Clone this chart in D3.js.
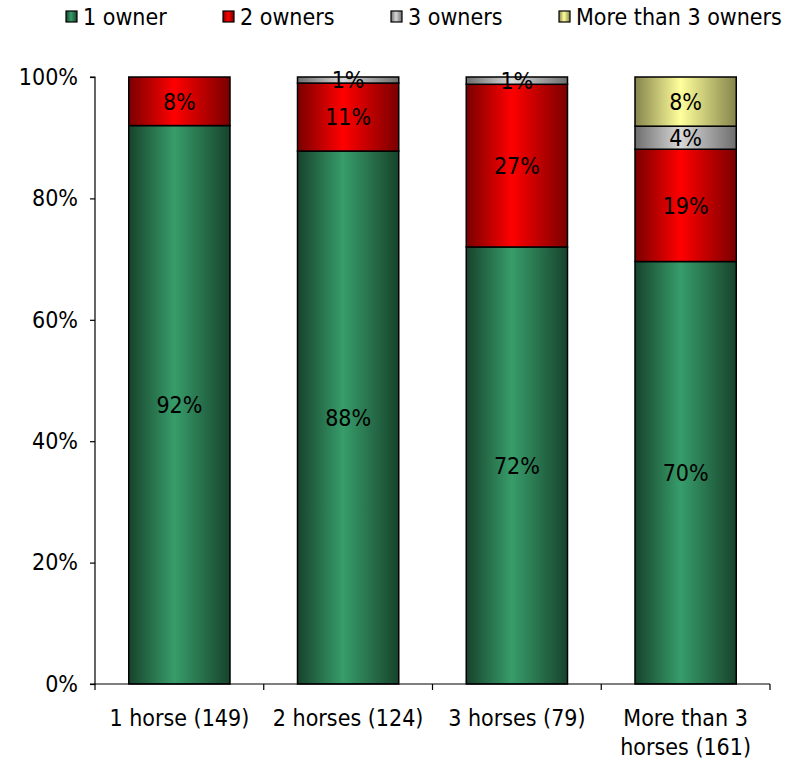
<!DOCTYPE html>
<html><head><meta charset="utf-8">
<script src="https://cdn.jsdelivr.net/npm/d3@7"></script>
<style>body{margin:0;background:#fff}svg{display:block}text{font-family:"DejaVu Sans Condensed","DejaVu Sans",sans-serif}</style>
</head><body><svg id="c" width="804" height="761"></svg>
<script>
const categories = ["1 horse (149)", "2 horses (124)", "3 horses (79)", "More than 3 horses (161)"];
const categoryLines = [["1 horse (149)"], ["2 horses (124)"], ["3 horses (79)"], ["More than 3", "horses (161)"]];
const seriesNames = ["1 owner", "2 owners", "3 owners", "More than 3 owners"];
const oneOwner = [92, 87.8, 72.0, 69.6];
const twoOwners = [8, 11.2, 26.8, 18.5];
const threeOwners = [0, 1.0, 1.2, 3.8];
const moreOwners = [0, 0, 0, 8.1];
const yTicks = [0, 20, 40, 60, 80, 100];
const colors = [
  {edge:"#17432c", mid:"#379d6a"},
  {edge:"#7a0000", mid:"#ff0000"},
  {edge:"#6e6e6e", mid:"#d8d8d8"},
  {edge:"#85854c", mid:"#ffff9c"}
];

(function(){
const FS = 23;
const series = [oneOwner, twoOwners, threeOwners, moreOwners];
const svg = d3.select("#c");
const defs = svg.append("defs");
colors.forEach((c,i)=>{
  const g = defs.append("linearGradient").attr("id","g"+i).attr("x1","0").attr("x2","1").attr("y1","0").attr("y2","0");
  g.append("stop").attr("offset","0%").attr("stop-color",c.edge);
  g.append("stop").attr("offset","45%").attr("stop-color",c.mid);
  g.append("stop").attr("offset","100%").attr("stop-color",c.edge);
});

const mLeft = 95, mRight = 770, mTop = 77, mBottom = 684;
const x = d3.scaleBand().domain(categories).range([mLeft, mRight]).paddingInner(0.4).paddingOuter(0.2);
const y = d3.scaleLinear().domain([0, 100]).range([mBottom, mTop]);

const rows = categories.map((c,i)=>{ const o={cat:c}; seriesNames.forEach((s,j)=>o[s]=series[j][i]); return o; });
const stacked = d3.stack().keys(seriesNames)(rows);

stacked.forEach((layer, j)=>{
  const g = svg.append("g");
  layer.forEach((d,i)=>{
    const v = d[1]-d[0];
    if (v <= 0) return;
    g.append("rect").attr("x", x(categories[i])).attr("width", x.bandwidth())
      .attr("y", y(d[1])).attr("height", y(d[0]) - y(d[1]))
      .attr("fill", "url(#g"+j+")").attr("stroke","#000").attr("stroke-width",1.5);
  });
});
stacked.forEach((layer, j)=>{
  layer.forEach((d,i)=>{
    const v = d[1]-d[0];
    if (v <= 0) return;
    svg.append("text").attr("x", x(categories[i]) + x.bandwidth()/2)
      .attr("y", (y(d[0])+y(d[1]))/2).attr("dy","0.36em")
      .attr("text-anchor","middle").attr("font-size",FS).attr("fill","#000")
      .text(Math.round(v) + "%");
  });
});

// y axis
const ya = svg.append("g").attr("transform",`translate(${mLeft},0)`)
  .call(d3.axisLeft(y).tickValues(yTicks).tickFormat(d=>d+"%").tickSize(5).tickPadding(12));
ya.select(".domain").attr("stroke","#000").attr("stroke-width",1.2).attr("d",`M-5,${mTop}H0V${mBottom}H-5`);
ya.selectAll("line").attr("stroke","#000").attr("stroke-width",1.2);
ya.selectAll("text").attr("font-size",FS).attr("fill","#000").attr("font-family",'"DejaVu Sans Condensed","DejaVu Sans",sans-serif');

// x axis
const xg = svg.append("g");
xg.append("line").attr("x1",mLeft).attr("x2",mRight).attr("y1",mBottom).attr("y2",mBottom).attr("stroke","#000").attr("stroke-width",1.2);
const step = x.step();
const bounds = categories.map(c=>x(c) - x.paddingInner()*step/2).concat([mRight]);
bounds.forEach(b=>xg.append("line").attr("x1",b).attr("x2",b).attr("y1",mBottom).attr("y2",mBottom+6).attr("stroke","#000").attr("stroke-width",1.2));
categories.forEach((c,i)=>{
  const cx = x(c)+x.bandwidth()/2;
  const lines = categoryLines[i];
  lines.forEach((t,k)=>{
    xg.append("text").attr("x",cx).attr("y",726+k*29).attr("text-anchor","middle").attr("font-size",FS).attr("fill","#000").text(t);
  });
});

// legend
const legX = [66, 223, 391, 559];
seriesNames.forEach((s,j)=>{
  svg.append("rect").attr("x",legX[j]).attr("y",11).attr("width",11).attr("height",11)
    .attr("fill","url(#g"+j+")").attr("stroke","#000").attr("stroke-width",1.2);
  svg.append("text").attr("x",legX[j]+17).attr("y",17).attr("dy","0.36em").attr("font-size",FS).attr("fill","#000").text(s);
});
})();
</script></body></html>
